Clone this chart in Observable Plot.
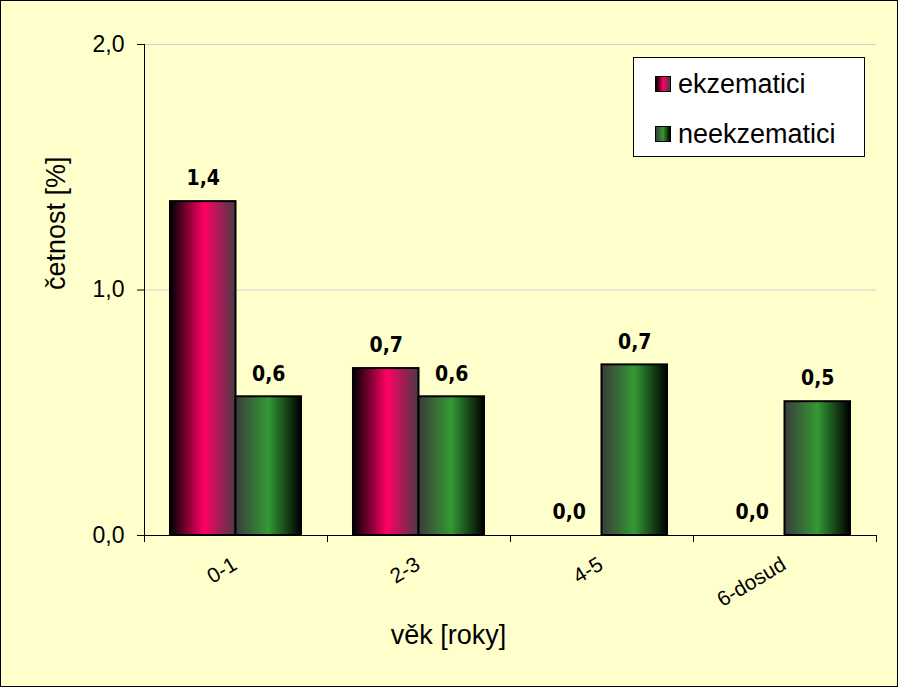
<!DOCTYPE html>
<html><head><meta charset="utf-8">
<script src="https://cdn.jsdelivr.net/npm/d3@7"></script>
<script src="https://cdn.jsdelivr.net/npm/@observablehq/plot@0.6"></script>
<style>
body{margin:0;background:#FFFFCC;}
#wrap{position:relative;width:898px;height:687px;background:#FFFFCC;font-family:"Liberation Sans",Arial,sans-serif;overflow:hidden;}
#wrap svg{position:absolute;left:0;top:0;}
#border{position:absolute;left:0;top:0;width:898px;height:687px;border:1px solid #000;box-sizing:border-box;pointer-events:none;}
#legend{position:absolute;left:633px;top:57px;width:232px;height:100px;background:#fff;border:1px solid #000;box-sizing:border-box;}
.item{position:absolute;left:21px;height:30px;display:flex;align-items:center;font-size:27px;color:#000;white-space:nowrap;}
.sw{width:16px;height:16px;border:1px solid #000;box-sizing:border-box;margin-right:7px;}
</style></head>
<body>
<div id="wrap">
  <div id="chart"></div>
  <div id="legend"></div>
  <div id="border"></div>
</div>
<script>
const categories = ["0-1", "2-3", "4-5", "6-dosud"];
const series = ["ekzematici", "neekzematici"];
const ekzematici = [1.36, 0.68, 0, 0];
const neekzematici = [0.565, 0.565, 0.695, 0.545];
const yTicks = [0, 1, 2];
const xLabel = "věk [roky]";
const yLabel = "četnost [%]";

const gradients = {
  ekzematici: {id: "gEk", stops: [[0, "#000000"], [0.52, "#ff0066"], [1, "#4a3a44"]]},
  neekzematici: {id: "gNe", stops: [[0, "#3c3c3c"], [0.5, "#339933"], [1, "#000000"]]}
};

const fmt = d => d.toFixed(1).replace(".", ",");
const groupPad = 0.142;
const barW = (1 - 2 * groupPad) / series.length;
const values = {ekzematici, neekzematici};
const rows = [];
categories.forEach((cat, i) => {
  series.forEach((s, j) => {
    const x1 = i + groupPad + j * barW;
    rows.push({cat, series: s, value: values[s][i], x1, x2: x1 + barW});
  });
});

const font = "'Liberation Sans', Arial, sans-serif";
const narrow = "'DejaVu Sans Condensed', 'Liberation Sans Narrow', 'Arial Narrow', sans-serif";

const svg = Plot.plot({
  width: 898,
  height: 687,
  marginLeft: 144,
  marginRight: 22,
  marginTop: 44,
  marginBottom: 152,
  style: {background: "transparent", fontFamily: font, color: "#000", overflow: "visible"},
  x: {type: "linear", domain: [0, categories.length], axis: null},
  y: {domain: [0, 2], axis: null},
  color: {type: "ordinal", domain: series, range: series.map(s => `url(#${gradients[s].id})`)},
  marks: [
    Plot.gridY([1, 2], {stroke: "#cfcfcf", strokeOpacity: 1}),
    Plot.rect(rows, {x1: "x1", x2: "x2", y1: 0, y2: "value", fill: "series", stroke: "#000", strokeWidth: 2}),
    Plot.ruleX([0], {stroke: "#000", strokeWidth: 1}),
    Plot.ruleY([0], {stroke: "#000", strokeWidth: 1}),
    Plot.axisY(yTicks, {label: null, tickFormat: fmt, tickSize: 7, tickPadding: 13, fontSize: 23, stroke: "#000", fill: "#000"}),
    Plot.axisX(d3.range(categories.length + 1), {label: null, tickFormat: () => "", tickSize: 7, stroke: "#000"}),
    Plot.text(categories, {x: (d, i) => i + 0.5, y: 0, text: d => d, textAnchor: "end", lineAnchor: "middle", rotate: -31, dx: -1, dy: 27, fontSize: 21, fill: "#000"}),
    Plot.text(rows, {x: d => (d.x1 + d.x2) / 2, y: "value", text: d => fmt(d.value), dy: -23, lineAnchor: "middle", fontSize: 21, fontWeight: "bold", fontFamily: narrow, fill: "#000"}),
    Plot.text([xLabel], {frameAnchor: "bottom", dx: -62, dy: 100, lineAnchor: "middle", fontSize: 27, fill: "#000"}),
    Plot.text([yLabel], {frameAnchor: "left", dx: -88, rotate: -90, lineAnchor: "middle", fontSize: 27, fill: "#000"})
  ]
});

const defs = d3.select(svg).insert("defs", ":first-child");
for (const s of series) {
  const g = gradients[s];
  const lg = defs.append("linearGradient").attr("id", g.id).attr("x1", 0).attr("x2", 1).attr("y1", 0).attr("y2", 0);
  for (const [o, c] of g.stops) lg.append("stop").attr("offset", o).attr("stop-color", c);
}
document.getElementById("chart").appendChild(svg);

const legend = document.getElementById("legend");
series.forEach((s, j) => {
  const g = gradients[s];
  const item = document.createElement("div");
  item.className = "item";
  item.style.top = (11 + j * 50) + "px";
  const sw = document.createElement("span");
  sw.className = "sw";
  sw.style.background = `linear-gradient(to right, ${g.stops.map(([o, c]) => `${c} ${o * 100}%`).join(", ")})`;
  const t = document.createElement("span");
  t.textContent = s;
  item.appendChild(sw);
  item.appendChild(t);
  legend.appendChild(item);
});
</script>
</body></html>
